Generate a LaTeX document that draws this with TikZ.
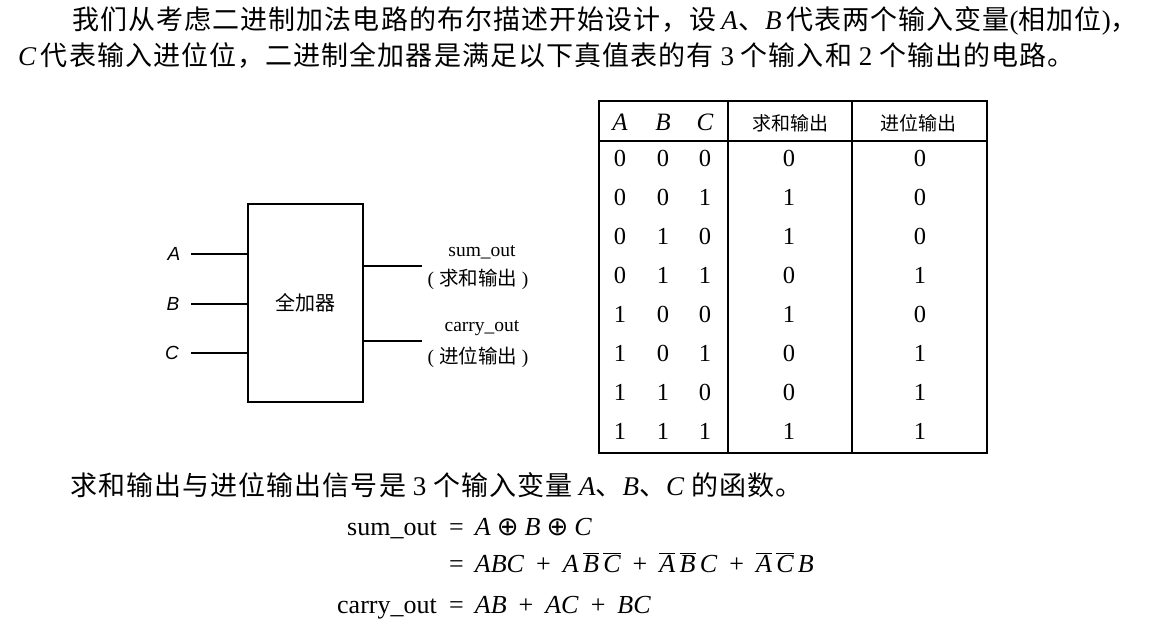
\documentclass[tikz,border=0pt]{standalone}
\usepackage{fontspec}
\setmainfont{Liberation Serif}
\newfontfamily\zh{Noto Sans CJK SC}
\newfontfamily\zhb[LetterSpace=4]{Noto Sans CJK SC}
\newfontfamily\hv{Liberation Sans}
\newfontfamily\dv{DejaVu Sans}
\newcommand{\ob}[1]{$\overline{\mbox{\itshape #1}}$}
\newcommand{\xo}{\hspace{6pt}{\dv ⊕}\hspace{6pt}}
\newcommand{\pl}{\hspace{12pt}+\hspace{12pt}}
\newcommand{\eqs}{=\hspace{11pt}}
\begin{document}
\begin{tikzpicture}[x=1pt,y=-1pt,
  body/.style={anchor=base west, inner sep=0pt, font=\fontsize{27}{32}\selectfont},
  eqn/.style={inner sep=0pt, font=\fontsize{26}{30}\selectfont},
  wire/.style={line width=1.6pt},
  tab/.style={line width=1.6pt},
  inlab/.style={inner sep=0pt, font=\fontsize{19}{21}\selectfont\hv\itshape},
  outlab/.style={inner sep=0pt, font=\fontsize{19.5}{22}\selectfont},
  th/.style={inner sep=0pt, font=\fontsize{25}{27}\selectfont\itshape},
  thz/.style={inner sep=0pt, font=\fontsize{19}{22}\selectfont\zh},
  td/.style={inner sep=0pt, font=\fontsize{24.5}{26}\selectfont}]
\useasboundingbox (0,0) rectangle (1158,631);

% paragraph text
\node[body] (l1) at (72,30) {{\zhb 我们从考虑二进制加法电路的布尔描述开始设计，设}\,\textit{A}{\zhb 、}\textit{B}\,{\zhb 代表两个输入变量}({\zhb 相加位}){\zhb ，}};
\node[body] (l2) at (18,66) {\textit{C}\,{\zhb 代表输入进位位，二进制全加器是满足以下真值表的有} 3 {\zhb 个输入和} 2 {\zhb 个输出的电路。}};
\node[body] (l3) at (70,495) {{\zhb 求和输出与进位输出信号是} 3 {\zhb 个输入变量} \textit{A}{\zhb 、}\textit{B}{\zhb 、}\textit{C} {\zhb 的函数。}};

% equations
\node[eqn, anchor=base east] (s1) at (437,535) {sum\_out};
\node[eqn, anchor=base west] (s2) at (449,535) {\eqs\textit{A}\xo\textit{B}\xo\textit{C}};
\node[eqn, anchor=base west] (s3) at (449,572) {\eqs\textit{ABC}\pl\textit{A}\,\ob{B}\,\ob{C}\pl\ob{A}\,\ob{B}\,\textit{C}\pl\ob{A}\,\ob{C}\,\textit{B}};
\node[eqn, anchor=base east] (c1) at (437,613) {carry\_out};
\node[eqn, anchor=base west] (c2) at (449,613) {\eqs\textit{AB}\pl\textit{AC}\pl\textit{BC}};

% full adder block
\node[draw, line width=1.6pt, minimum width=115pt, minimum height=198pt, inner sep=0pt,
      font=\fontsize{20}{24}\selectfont\zh] (fa) at (305.5,303) {全加器};
\coordinate (ia) at (191,254);
\coordinate (ib) at (191,304);
\coordinate (ic) at (191,353);
\draw[wire] (ia) -- (ia -| fa.west);
\draw[wire] (ib) -- (ib -| fa.west);
\draw[wire] (ic) -- (ic -| fa.west);
\node[inlab] (la) at (174,254) {A};
\node[inlab] (lb) at (173,304) {B};
\node[inlab] (lc) at (172,353) {C};
\coordinate (os) at (422,266);
\coordinate (oc) at (422,341);
\draw[wire] (os -| fa.east) -- (os);
\draw[wire] (oc -| fa.east) -- (oc);
\node[outlab] (ls1) at (482,252) {sum\_out};
\node[outlab] (ls2) at (478,279) {( {\zh 求和输出} )};
\node[outlab] (lc1) at (482,328) {carry\_out};
\node[outlab] (lc2) at (478,357) {( {\zh 进位输出} )};

% truth table
\draw[tab] (599,101) rectangle (987,453);
\draw[tab] (599,141) -- (987,141);
\draw[tab] (728,101) -- (728,453);
\draw[tab] (852,101) -- (852,453);
\node[th] (hA) at (620,122) {A};
\node[th] (hB) at (663,122) {B};
\node[th] (hC) at (705,122) {C};
\node[thz] (hS) at (790,123) {求和输出};
\node[thz] (hO) at (918,123) {进位输出};
\foreach \a/\b/\c/\s/\o [count=\i from 0] in {0/0/0/0/0,0/0/1/1/0,0/1/0/1/0,0/1/1/0/1,1/0/0/1/0,1/0/1/0/1,1/1/0/0/1,1/1/1/1/1}{
  \pgfmathsetmacro\yy{158+39.1*\i}
  \node[td] (ra\i) at (620,\yy) {\a};
  \node[td] (rb\i) at (663,\yy) {\b};
  \node[td] (rc\i) at (705,\yy) {\c};
  \node[td] (rs\i) at (789,\yy) {\s};
  \node[td] (ro\i) at (920,\yy) {\o};
}
\end{tikzpicture}
\end{document}
